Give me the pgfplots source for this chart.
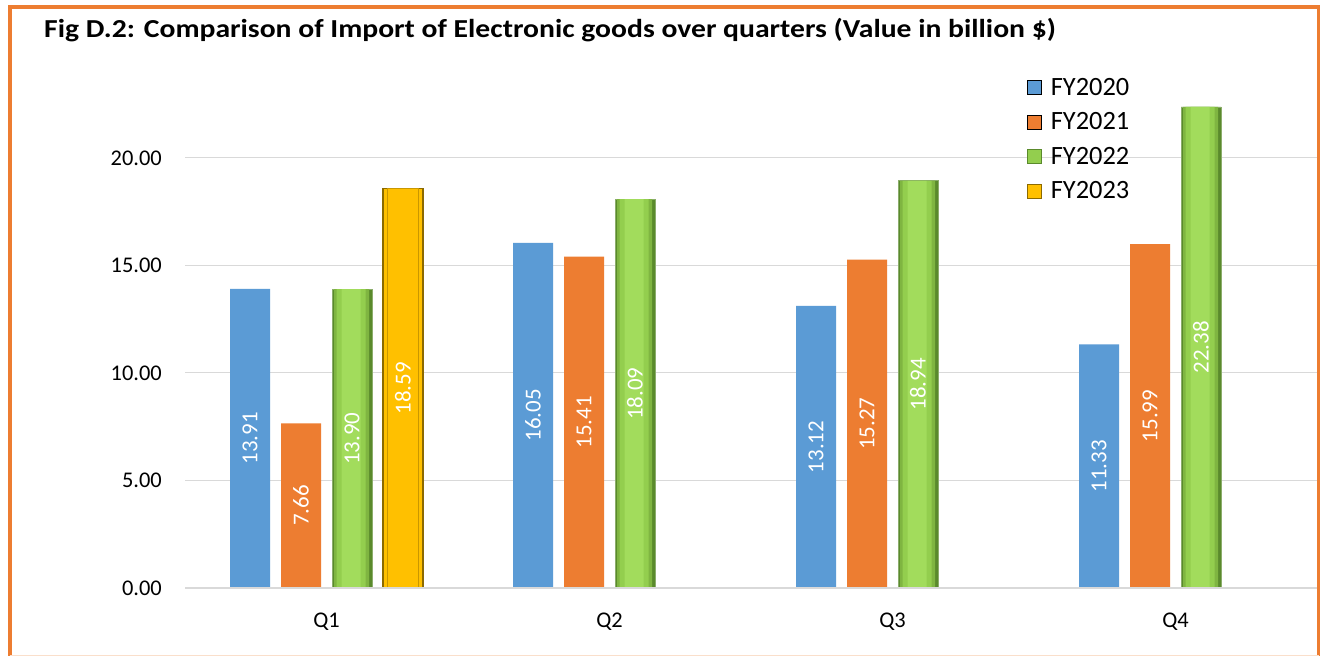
\documentclass[border=0pt]{standalone}
\usepackage{pgfplots}
\usepackage{pgfplotstable}
\pgfplotsset{compat=1.18}
\usepackage{fontspec}
\setmainfont{Carlito}
\definecolor{cBlue}{HTML}{5B9BD5}
\definecolor{cOrange}{HTML}{ED7D31}
\definecolor{gEdge}{HTML}{5A8A2C}
\definecolor{gDark}{HTML}{7FB541}
\definecolor{gMid}{HTML}{93CE4E}
\definecolor{gLight}{HTML}{A2DC5C}
\definecolor{cGold}{HTML}{FFC000}
\definecolor{cGoldMid}{HTML}{C99700}
\definecolor{cGoldDark}{HTML}{8C6A00}
\definecolor{frameOr}{HTML}{ED7D31}
\definecolor{gridc}{HTML}{D9D9D9}

\pgfplotstableread{
x FY2020 FY2021 FY2022
0 13.91 7.66 13.90
1 16.05 15.41 18.09
2 13.12 15.27 18.94
3 11.33 15.99 22.38
}\dataA
\pgfplotstableread{
x FY2023
0 18.59
}\dataB

\pgfplotsset{
  lbl/.style={draw=none, forget plot, point meta=explicit,
    nodes near coords={\pgfmathprintnumber[fixed,fixed zerofill,precision=2]{\pgfplotspointmeta}}},
}

\begin{document}
\begin{tikzpicture}
\useasboundingbox (0,0) rectangle (1320bp,656bp);
\fill[white] (0,0) rectangle (1320bp,656bp);
\draw[frameOr, line width=4bp] (9.5bp,0) -- (9.5bp,649bp) -- (1318.5bp,649bp) -- (1318.5bp,0);
\draw[frameOr!25, line width=1.5bp] (9.5bp,0.75bp) -- (1318.5bp,0.75bp);
\node[anchor=base west, font=\bfseries\fontsize{26}{30}\selectfont, inner sep=0pt, xscale=1.144] at (44bp,618.7bp)
  {Fig D.2: Comparison of Import of Electronic goods over quarters (Value in billion \$)};
\begin{axis}[
  at={(185bp,68bp)}, anchor=south west,
  scale only axis, width=1132bp, height=494.5bp,
  ymin=0, ymax=23, xmin=-0.5, xmax=3.5,
  axis line style={draw=none},
  axis x line*=bottom,
  ymajorgrids, grid style={gridc, line width=1bp},
  ytick={0,5,10,15,20},
  yticklabel={\pgfmathprintnumber[fixed,fixed zerofill,precision=2]{\tick}},
  /pgf/number format/assume math mode=true,
  xtick={0,1,2,3}, xticklabels={Q1,Q2,Q3,Q4},
  major tick length=0pt,
  tick label style={font=\fontsize{22.5}{27}\selectfont, black},
  yticklabel style={anchor=east, inner sep=0pt, xshift=-23bp},
  xticklabel style={anchor=base, inner sep=0pt, yshift=-39bp},
  every node near coord/.append style={rotate=90, anchor=center, text=white,
    font=\fontsize{23}{27}\selectfont, inner sep=0pt},
  legend cell align=left,
  legend style={at={(0.7437,1.035)}, anchor=north west, draw=none, fill=none,
    font=\fontsize{26.5}{30}\selectfont, row sep=11.8bp, inner sep=0pt,
    /tikz/every odd column/.append style={column sep=7bp}},
  legend image code/.code={\draw[#1, line width=0.5bp] (0bp,-7bp) rectangle (14bp,7bp);},
  clip=false,
]
% FY2020
\addplot[ybar, bar width=40bp, bar shift=-76.5bp, draw=none, fill=cBlue] table[x=x, y=FY2020] {\dataA};
\addlegendentry{FY2020}
% FY2021
\addplot[ybar, bar width=40bp, bar shift=-25.5bp, draw=none, fill=cOrange] table[x=x, y=FY2021] {\dataA};
\addlegendentry{FY2021}
% FY2022 (layered for a bevelled look)
\addplot[ybar, bar width=40bp, bar shift=25.5bp, draw=gEdge!70, line width=0.6bp, fill=gEdge,
  legend image code/.code={\draw[gEdge, line width=0.8bp, fill=gMid] (0bp,-7bp) rectangle (14bp,7bp);}]
  table[x=x, y=FY2022] {\dataA};
\addlegendentry{FY2022}
\addplot[ybar, forget plot, bar width=35bp, bar shift=25bp, draw=none, fill=gDark] table[x=x, y=FY2022] {\dataA};
\addplot[ybar, forget plot, bar width=29bp, bar shift=24.5bp, draw=none, fill=gMid] table[x=x, y=FY2022] {\dataA};
\addplot[ybar, forget plot, bar width=19bp, bar shift=24.5bp, draw=none, fill=gLight] table[x=x, y=FY2022] {\dataA};
% FY2023
\addplot[ybar, bar width=40bp, bar shift=76.5bp, draw=cGoldDark, line width=1.2bp, fill=cGold] table[x=x, y=FY2023] {\dataB};
\addlegendentry{FY2023}
\addplot[ybar, forget plot, bar width=31bp, bar shift=76.5bp, draw=cGoldMid, line width=1.5bp, fill=cGold] table[x=x, y=FY2023] {\dataB};
\draw[gridc, line width=1.2bp] (axis cs:-0.5,0) -- (axis cs:3.5,0);
% value labels, centred in the bars
\addplot[lbl] table[x expr=\thisrow{x}-0.2703, y expr=\thisrow{FY2020}/2, meta=FY2020] {\dataA};
\addplot[lbl] table[x expr=\thisrow{x}-0.0901, y expr=\thisrow{FY2021}/2, meta=FY2021] {\dataA};
\addplot[lbl] table[x expr=\thisrow{x}+0.0901, y expr=\thisrow{FY2022}/2, meta=FY2022] {\dataA};
\addplot[lbl] table[x expr=\thisrow{x}+0.2703, y expr=\thisrow{FY2023}/2, meta=FY2023] {\dataB};
\end{axis}
\end{tikzpicture}
\end{document}
